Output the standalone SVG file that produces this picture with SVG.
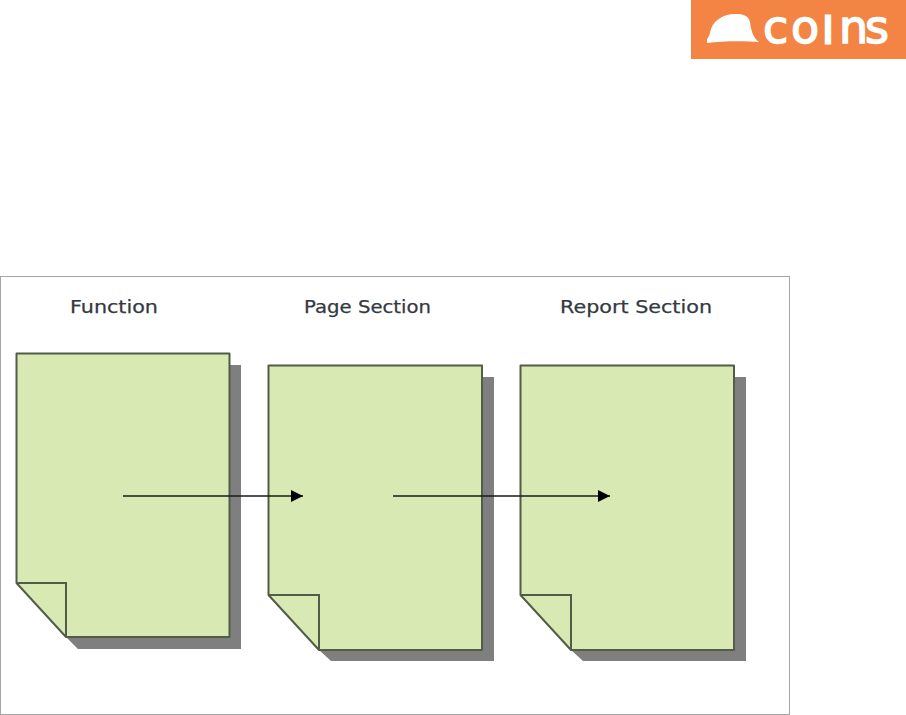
<svg xmlns="http://www.w3.org/2000/svg" width="906" height="715" viewBox="0 0 906 715">
<style>
.page{fill:#d9e9b3;stroke:#535c47;stroke-width:2;stroke-linejoin:round}
.fold{fill:none;stroke:#535c47;stroke-width:2}
.shadow{fill:#7f7f7f;filter:url(#soft)}
.label{font-family:"DejaVu Sans",Verdana,sans-serif;font-size:18.500px;fill:#333940;stroke:#333940;stroke-width:.25}
.conn{stroke:#1a1a1a;stroke-width:1.600;fill:none;marker-end:url(#arrow)}
.logo-text{font-family:"DejaVu Sans",sans-serif;font-size:46px;fill:#fff;stroke:#fff;stroke-width:1.500}
</style>
<defs>
<marker id="arrow" markerUnits="userSpaceOnUse" markerWidth="14" markerHeight="12" refX="12" refY="6" orient="auto"><path d="M0 0L12 6L0 12Z" fill="#000"/></marker>
<filter id="soft" x="-5%" y="-5%" width="110%" height="110%"><feGaussianBlur stdDeviation="0.6"/></filter>
</defs>
<rect width="906" height="715" fill="#fff"/>
<g id="logo">
<rect x="691" y="0" width="215" height="59" fill="#f48444"/>
<path d="M707 43L707 39C709 37 710 33 711 29C714 20 724 14 735 14C743 14 748 15 750 22C751 30 753 38 759 42C745 41 722 41 707 43Z" fill="#fff"/>
<text class="logo-text" y="43" x="763 791 823 839 865">co<tspan font-size="36" stroke-width="3">i</tspan>ns</text>
</g>
<rect id="frame" x="0.5" y="276.5" width="789" height="438" fill="#fff" stroke="#a6a6a6" stroke-width="1"/>
<g id="page-function">
<path class="shadow" d="M229 365H241V649H78L66 637H229Z"/>
<path class="page" d="M16.500 353.500H229.500V637H66L16.500 583Z"/>
<path class="fold" d="M16.500 583H66V637"/>
<text class="label" x="70" y="313" textLength="88" lengthAdjust="spacingAndGlyphs">Function</text>
</g>
<g id="page-section">
<path class="shadow" d="M482 377H494V661H331L319 650H482Z"/>
<path class="page" d="M268.500 365.500H482V650H319L268.500 595Z"/>
<path class="fold" d="M268.500 595H319V650"/>
<text class="label" x="304" y="313" textLength="127" lengthAdjust="spacingAndGlyphs">Page Section</text>
</g>
<g id="report-section">
<path class="shadow" d="M734 377H746V661H583L571 650H734Z"/>
<path class="page" d="M520.500 365.500H734V650H571L520.500 595Z"/>
<path class="fold" d="M520.500 595H571V650"/>
<text class="label" x="560" y="313" textLength="152" lengthAdjust="spacingAndGlyphs">Report Section</text>
</g>
<g id="connectors">
<line class="conn" x1="123" y1="496" x2="303" y2="496"/>
<line class="conn" x1="393" y1="496" x2="610" y2="496"/>
</g>
</svg>
